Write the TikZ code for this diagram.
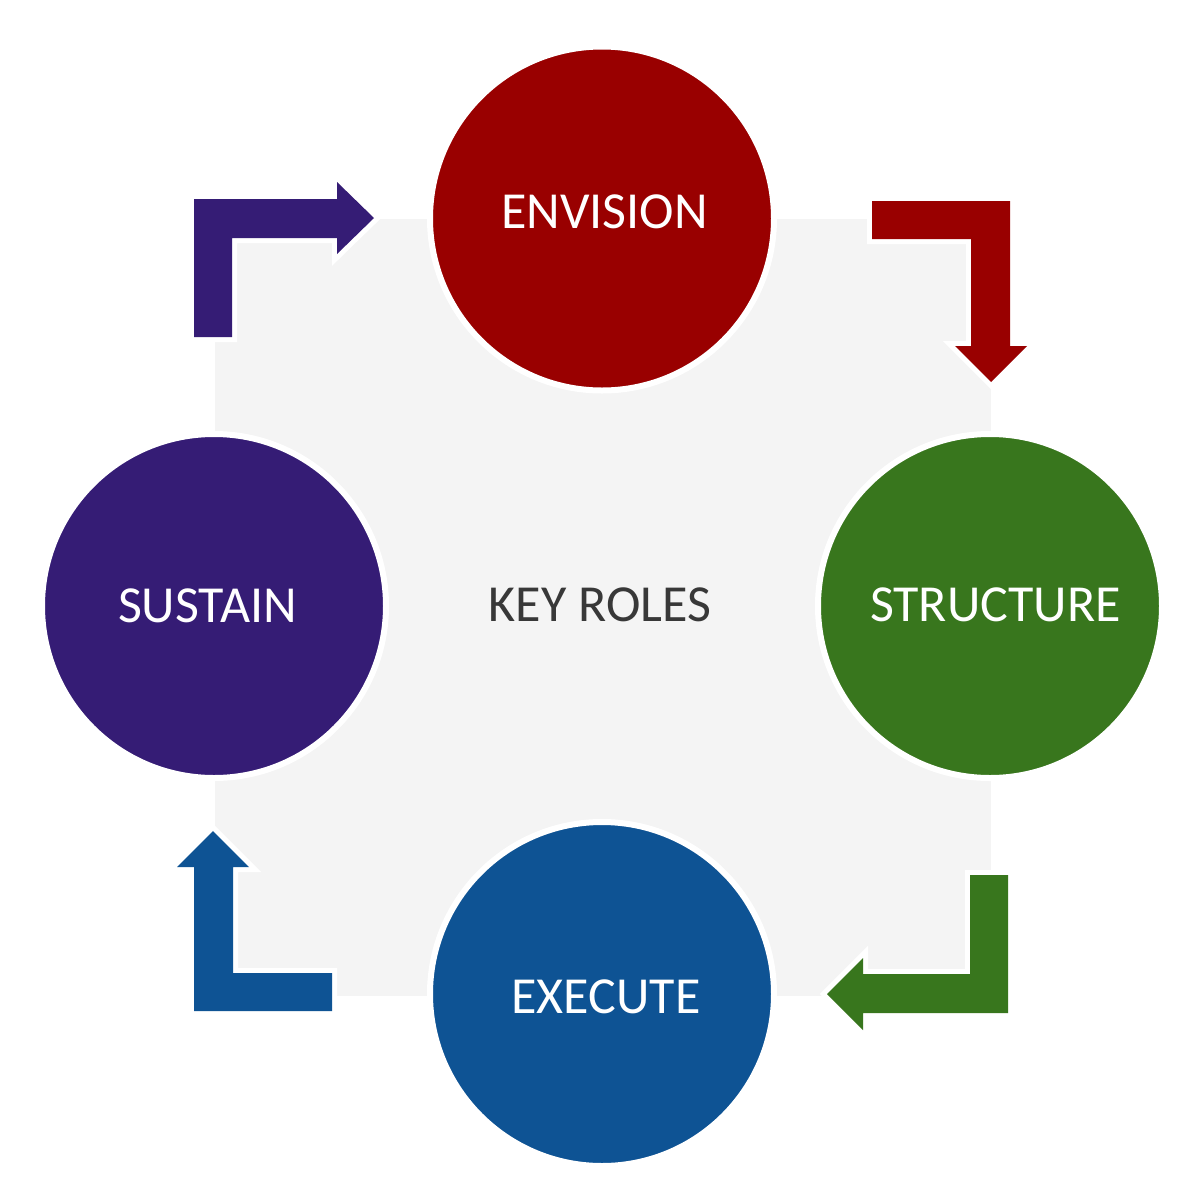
\documentclass[tikz,border=0pt]{standalone}
\usepackage{fontspec}
\setmainfont{Carlito}
\definecolor{cred}{HTML}{990000}
\definecolor{cgreen}{HTML}{38761D}
\definecolor{cblue}{HTML}{0E5394}
\definecolor{cpurple}{HTML}{351C75}
\definecolor{bggray}{HTML}{F4F4F4}
\definecolor{textdark}{HTML}{383838}
\begin{document}
\begin{tikzpicture}[x=1pt,y=-1pt,
  role/.style={circle, minimum size=344pt, inner sep=0pt, draw=white, line width=6pt},
  lbl/.style={inner sep=0pt, text=white, font=\fontsize{52}{60}\selectfont},
  centerlbl/.style={inner sep=0pt, text=textdark, font=\fontsize{52}{60}\selectfont},
  bent/.style={fill=#1, preaction={draw=white, line width=10pt, line join=miter}}]
\useasboundingbox (0,0) rectangle (1200,1200);
% background square
\fill[bggray] (215,219) rectangle (991,996);
% bent arrows
\path[bent=cred] (872,201) -- (1010,201) -- (1010,346) -- (1027,346) -- (991,382) -- (955,346) -- (971,346) -- (971,239) -- (872,239) -- cycle;
\path[bent=cgreen] (1008,875) -- (1008,1013) -- (863,1013) -- (863,1030) -- (827,994) -- (863,958) -- (863,974) -- (970,974) -- (970,875) -- cycle;
\path[bent=cblue] (332,1011) -- (194,1011) -- (194,867) -- (177,867) -- (213,831) -- (249,867) -- (233,867) -- (233,973) -- (332,973) -- cycle;
\path[bent=cpurple] (194,337) -- (194,199) -- (337,199) -- (337,182) -- (374,218) -- (337,254) -- (337,238) -- (232,238) -- (232,337) -- cycle;
% circles
\node[role, fill=cred] (envision) at (602,218.5) {};
\node[role, fill=cgreen] (structure) at (990,606) {};
\node[role, fill=cblue] (execute) at (602,994) {};
\node[role, fill=cpurple] (sustain) at (214,606) {};
% labels
\node[lbl] (envisiont) at (604.5,212) {ENVISION};
\node[lbl] (structuret) at (995.5,605) {STRUCTURE};
\node[lbl] (executet) at (606,996.5) {EXECUTE};
\node[lbl] (sustaint) at (207.5,606) {SUSTAIN};
\node[centerlbl] (keyroles) at (600,604.5) {KEY ROLES};
\end{tikzpicture}
\end{document}
